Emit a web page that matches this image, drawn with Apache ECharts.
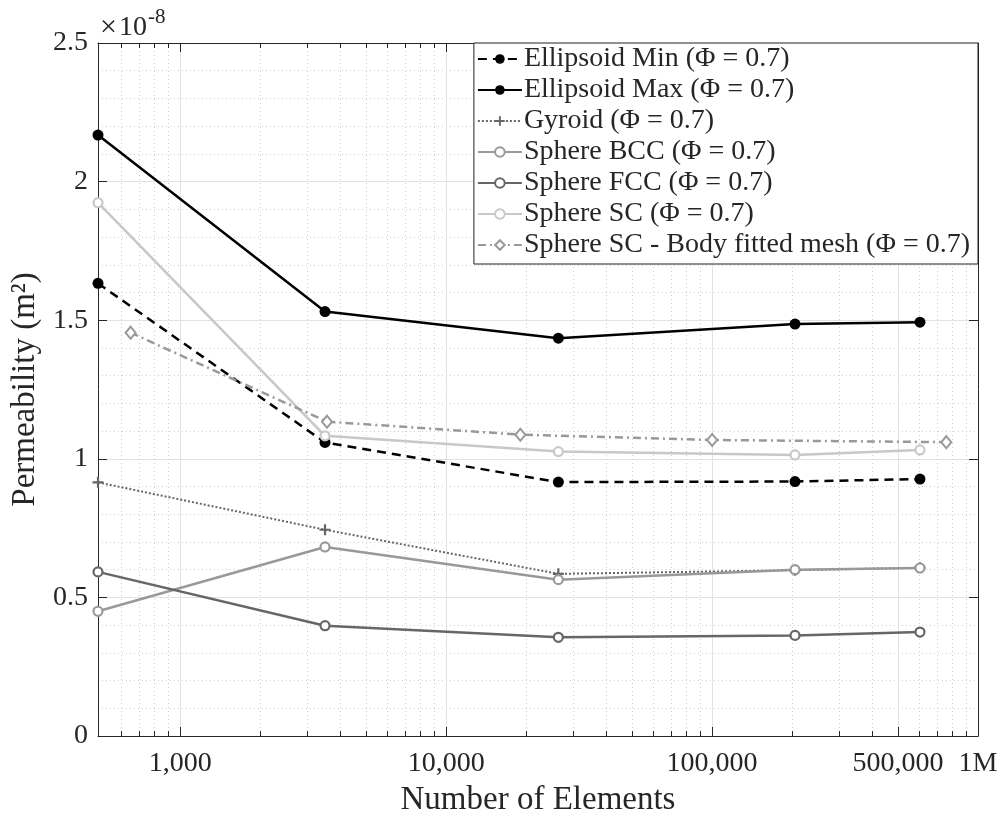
<!DOCTYPE html>
<html><head><meta charset="utf-8">
<script src="https://cdn.jsdelivr.net/npm/echarts@6/dist/echarts.min.js"></script>
<style>html,body{margin:0;padding:0;background:#fff}#c{width:1002px;height:815px}</style>
</head><body><div id="c"></div>
<script>
// ---- data (values in units of 1e-8 m^2) ----
const xMain = [490, 3500, 26400, 205000, 605000];
const xBodyFitted = [650, 3560, 19000, 100000, 760000];
const ellipsoidMin = [1.633, 1.059, 0.916, 0.918, 0.927];
const ellipsoidMax = [2.168, 1.531, 1.435, 1.486, 1.493];
const gyroid = [0.915, 0.744, 0.585, 0.598, 0.607];
const sphereBCC = [0.450, 0.682, 0.564, 0.600, 0.606];
const sphereFCC = [0.592, 0.398, 0.356, 0.363, 0.375];
const sphereSC = [1.924, 1.083, 1.026, 1.014, 1.032];
const sphereSCBodyFitted = [1.455, 1.134, 1.087, 1.068, 1.060];
const seriesNames = [
  'Ellipsoid Min (Φ = 0.7)',
  'Ellipsoid Max (Φ = 0.7)',
  'Gyroid (Φ = 0.7)',
  'Sphere BCC (Φ = 0.7)',
  'Sphere FCC (Φ = 0.7)',
  'Sphere SC (Φ = 0.7)',
  'Sphere SC - Body fitted mesh (Φ = 0.7)'
];
const xMin = 490, xMax = 1000000;
const xTickValues = [1000, 10000, 100000, 500000, 1000000];
const xTickLabels = ['1,000', '10,000', '100,000', '500,000', '1M'];
const xMinorTickValues = [600, 700, 800, 900,
  2000, 3000, 4000, 5000, 6000, 7000, 8000, 9000,
  20000, 30000, 40000, 50000, 60000, 70000, 80000, 90000,
  200000, 300000, 400000, 600000, 700000, 800000, 900000];
const yMin = 0, yMax = 2.5, yInterval = 0.5;

const FONT = '"Liberation Serif", serif';
const AX = '#262626';
const TXT = '#262626';
const lg = v => Math.log10(v);
const majorL = xTickValues.map(lg);
const minorL = xMinorTickValues.map(lg);
const lmin = lg(xMin), lmax = lg(xMax);

function pair(xs, ys) { return xs.map((x, i) => [x, ys[i]]); }

const plusPath = 'path://M4,0h2v4h4v2h-4v4h-2v-4h-4v-2h4z';

function mk(name, xs, ys, o) {
  return Object.assign({
    name: name, type: 'line', xAxisIndex: 0, yAxisIndex: 0,
    data: pair(xs, ys), clip: false, animation: false
  }, o);
}

const series = [
  mk(seriesNames[0], xMain, ellipsoidMin, {
    symbol: 'circle', symbolSize: 11,
    itemStyle: { color: '#000' },
    lineStyle: { color: '#000', width: 2.5, type: [9, 6] }
  }),
  mk(seriesNames[1], xMain, ellipsoidMax, {
    symbol: 'circle', symbolSize: 11,
    itemStyle: { color: '#000' },
    lineStyle: { color: '#000', width: 2.5, type: 'solid' }
  }),
  mk(seriesNames[2], xMain, gyroid, {
    symbol: plusPath, symbolSize: 11,
    itemStyle: { color: '#666' },
    lineStyle: { color: '#666', width: 2, type: [2, 2] }
  }),
  mk(seriesNames[3], xMain, sphereBCC, {
    symbol: 'circle', symbolSize: 9,
    itemStyle: { color: '#fff', borderColor: '#999', borderWidth: 2.2 },
    lineStyle: { color: '#999', width: 2.5 }
  }),
  mk(seriesNames[4], xMain, sphereFCC, {
    symbol: 'circle', symbolSize: 9,
    itemStyle: { color: '#fff', borderColor: '#666', borderWidth: 2.2 },
    lineStyle: { color: '#666', width: 2.5 }
  }),
  mk(seriesNames[5], xMain, sphereSC, {
    symbol: 'circle', symbolSize: 9,
    itemStyle: { color: '#fff', borderColor: '#c8c8c8', borderWidth: 2.2 },
    lineStyle: { color: '#c8c8c8', width: 2.5 }
  }),
  mk(seriesNames[6], xBodyFitted, sphereSCBodyFitted, {
    symbol: 'diamond', symbolSize: [10, 12],
    itemStyle: { color: '#fff', borderColor: '#999', borderWidth: 2 },
    lineStyle: { color: '#999', width: 2.5, type: [8, 4, 2, 4] }
  })
];

const grid = { left: 98, right: 24, top: 43, bottom: 79, containLabel: false, outerBoundsMode: 'none' };

function valX(pos, vals, len, opts) {
  return Object.assign({
    type: 'value', position: pos, min: lmin, max: lmax,
    axisLine: { show: false },
    axisTick: { show: true, inside: true, length: len, customValues: vals, lineStyle: { color: AX, width: 1 } },
    axisLabel: { show: false },
    splitLine: { show: false }
  }, opts || {});
}

const option = {
  backgroundColor: '#fff',
  animation: false,
  grid: grid,
  legend: {
    data: seriesNames,
    orient: 'vertical', right: 24, top: 43, align: 'left',
    backgroundColor: '#fff', borderColor: '#222', borderWidth: 1,
    padding: [2, 8, 5, 3], itemGap: 3, itemWidth: 44, itemHeight: 12,
    textStyle: { fontFamily: FONT, fontSize: 28, color: TXT, padding: [0, 0, 0, -3] }
  },
  xAxis: [
    { type: 'log', logBase: 10, min: xMin, max: xMax, show: false },
    valX('bottom', majorL, 9, {
      axisLine: { show: true, lineStyle: { color: AX, width: 1 } },
      axisLabel: {
        show: true, customValues: majorL, margin: 14,
        fontFamily: FONT, fontSize: 28, color: TXT,
        formatter: function (v) {
          let best = 0;
          majorL.forEach((m, i) => { if (Math.abs(m - v) < Math.abs(majorL[best] - v)) best = i; });
          return xTickLabels[best];
        }
      },
      splitLine: { show: true, lineStyle: { color: '#e2e2e2', width: 1, type: 'solid' } },
      name: 'Number of Elements', nameLocation: 'middle', nameGap: 48,
      nameTextStyle: { fontFamily: FONT, fontSize: 33, color: TXT }
    }),
    valX('bottom', minorL, 5, {
      splitLine: { show: true, lineStyle: { color: '#cfcfcf', width: 1, type: [1, 3] } }
    }),
    valX('top', majorL, 9, { axisLine: { show: true, lineStyle: { color: AX, width: 1 } } }),
    valX('top', minorL, 5)
  ],
  yAxis: [
    {
      type: 'value', position: 'left', min: yMin, max: yMax, interval: yInterval,
      axisLine: { show: true, lineStyle: { color: AX, width: 1 } },
      axisTick: { show: true, inside: true, length: 9, lineStyle: { color: AX } },
      axisLabel: { fontFamily: FONT, fontSize: 28, color: TXT, margin: 10 },
      splitLine: { show: true, lineStyle: { color: '#e2e2e2', width: 1 } },
      minorTick: { show: false, splitNumber: 5 },
      minorSplitLine: { show: true, lineStyle: { color: '#cfcfcf', width: 1, type: [1, 3] } },
      name: 'Permeability (m²)', nameLocation: 'middle', nameGap: 52, nameRotate: 90,
      nameTextStyle: { fontFamily: FONT, fontSize: 33, color: TXT }
    },
    {
      type: 'value', position: 'right', min: yMin, max: yMax, interval: yInterval,
      axisLine: { show: true, lineStyle: { color: AX, width: 1 } },
      axisTick: { show: true, inside: true, length: 9, lineStyle: { color: AX } },
      axisLabel: { show: false },
      splitLine: { show: false }
    }
  ],
  graphic: [
    { type: 'text', left: 100, top: 13, style: { text: '×', font: '30px "Liberation Serif", serif', fill: TXT } },
    { type: 'text', left: 119, top: 14, style: { text: '10', font: '28px "Liberation Serif", serif', fill: TXT } },
    { type: 'text', left: 148, top: 7, style: { text: '-8', font: '21px "Liberation Serif", serif', fill: TXT } }
  ],
  series: series
};

const chart = echarts.init(document.getElementById('c'), null, { renderer: 'canvas' });
chart.setOption(option);
</script>
</body></html>
